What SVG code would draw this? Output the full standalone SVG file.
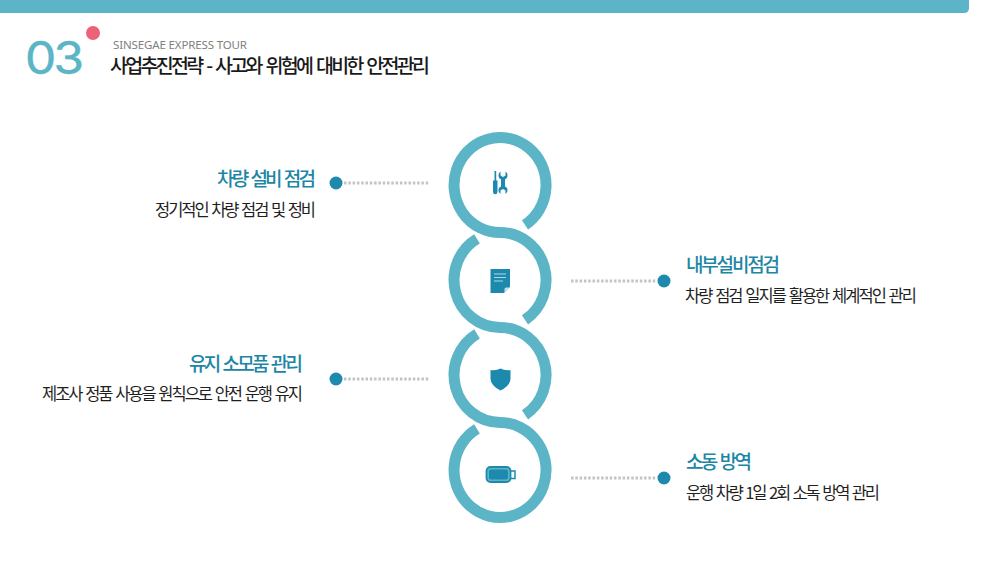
<svg xmlns="http://www.w3.org/2000/svg" width="1000" height="562" viewBox="0 0 1000 562">
<style>
text{font-family:"Noto Sans CJK KR","Noto Sans",sans-serif}
.h{font-size:19px;fill:#1c86a6;font-weight:500;word-spacing:2.500px}
.s{font-size:16.500px;fill:#1f1f1f;word-spacing:2px}
.r{text-anchor:end}
.ring{fill:none;stroke:#5bb5c6;stroke-width:11}
.dot{fill:#1c89ad}
.ln{fill:none;stroke:#c4c4c4;stroke-width:3;stroke-dasharray:2.500 1.800}
.ic{fill:#1c89ad}
.icl{fill:none;stroke:#a9dbe6;stroke-width:1}
</style>
<rect width="1000" height="562" fill="#fff"/>
<path d="M0 0H969V8Q969 13 964 13H0Z" fill="#5bb5c6"/>
<g id="header">
<text transform="translate(25 74) scale(1.1 1)" x="0" y="0" font-size="45" letter-spacing="-2.500" stroke="#5bb5c6" stroke-width=".5" style="font-family:Inter,sans-serif;fill:#5bb5c6">03</text>
<circle cx="93" cy="33" r="7" fill="#ec6278"/>
<text x="113" y="49" font-size="11.500" textLength="134" style="font-family:'Noto Sans',sans-serif;fill:#808080">SINSEGAE EXPRESS TOUR</text>
<text x="110" y="73" font-size="19.500" font-weight="500" textLength="320" fill="#1a1a1a" style="word-spacing:3px">사업추진전략 - 사고와 위험에 대비한 안전관리</text>
</g>
<g id="ring">
<path class="ring" d="M525 224.900A46 47.500 0 1 0 500 232.500A46 47.500 0 0 1 525 319.900"/>
<path class="ring" d="M477 238.900A46 47.500 0 0 0 500 327.500A46 47.500 0 0 1 525 414.900"/>
<path class="ring" d="M477 333.900A46 47.500 0 0 0 500 422.500A46 47.500 0 1 1 477 428.900"/>
</g>
<g id="connectors">
<path class="ln" d="M344 183H430"/>
<path class="ln" d="M571 281H657"/>
<path class="ln" d="M344 379H430"/>
<path class="ln" d="M571 478H657"/>
</g>
<g id="node-1">
<circle class="dot" cx="336" cy="183" r="6.500"/>
<text class="h r" x="316" y="186" textLength="99">차량 설비 점검</text>
<text class="s r" x="316" y="216" textLength="161">정기적인 차량 점검 및 정비</text>
<path class="ic" d="M494.500 171H496.200V180.500H497.500V192A2 2 0 0 1 493 192V180.500H494.500Z"/>
<path class="ic" d="M500.500 171.500V175.500L503 177 505.500 175.500V171.500A4 4 0 0 1 507.500 175.500C507.500 177.500 506.500 178.700 505 179.200V186.500C506.500 187 507.500 188.200 507.500 190A4 4 0 0 1 505.500 194V190.500L503 189 500.500 190.500V194A4 4 0 0 1 498.500 190C498.500 188.200 499.500 187 501 186.500V179.200C499.500 178.700 498.500 177.500 498.500 175.500A4 4 0 0 1 500.500 171.500Z"/>
</g>
<g id="node-2">
<circle class="dot" cx="664" cy="281" r="6.500"/>
<text class="h" x="686" y="272" textLength="94">내부설비점검</text>
<text class="s" x="685" y="302" textLength="232">차량 점검 일지를 활용한 체계적인 관리</text>
<path class="ic" d="M490.500 269H510V287L504 293H490.500Z"/>
<path d="M510 287.500L504.500 293V289Q504.500 287.500 506 287.500Z" fill="#bfe3ea"/>
<path class="icl" d="M494 274H506M494 277.500H506M494 281H503"/>
</g>
<g id="node-3">
<circle class="dot" cx="336" cy="379" r="6.500"/>
<text class="h r" x="303" y="371" textLength="114">유지 소모품 관리</text>
<text class="s r" x="303" y="400" textLength="261">제조사 정품 사용을 원칙으로 안전 운행 유지</text>
<path class="ic" d="M500.500 368.500Q505 371 510.500 370V379Q510 386 500.500 390.500Q491 386 490.500 379V370Q496 371 500.500 368.500Z"/>
</g>
<g id="node-4">
<circle class="dot" cx="664" cy="478" r="6.500"/>
<text class="h" x="686" y="469" textLength="66">소동 방역</text>
<text class="s" x="686" y="499" textLength="194">운행 차량 1일 2회 소독 방역 관리</text>
<rect x="486.500" y="467" width="24" height="15" rx="4" fill="#5bb5c6" stroke="#1c89ad" stroke-width="1.800"/>
<rect x="489" y="469.500" width="19" height="10" rx="2" class="ic"/>
<path d="M511 471H515V478.500H511" fill="none" stroke="#1c89ad" stroke-width="1.500"/>
</g>
</svg>
